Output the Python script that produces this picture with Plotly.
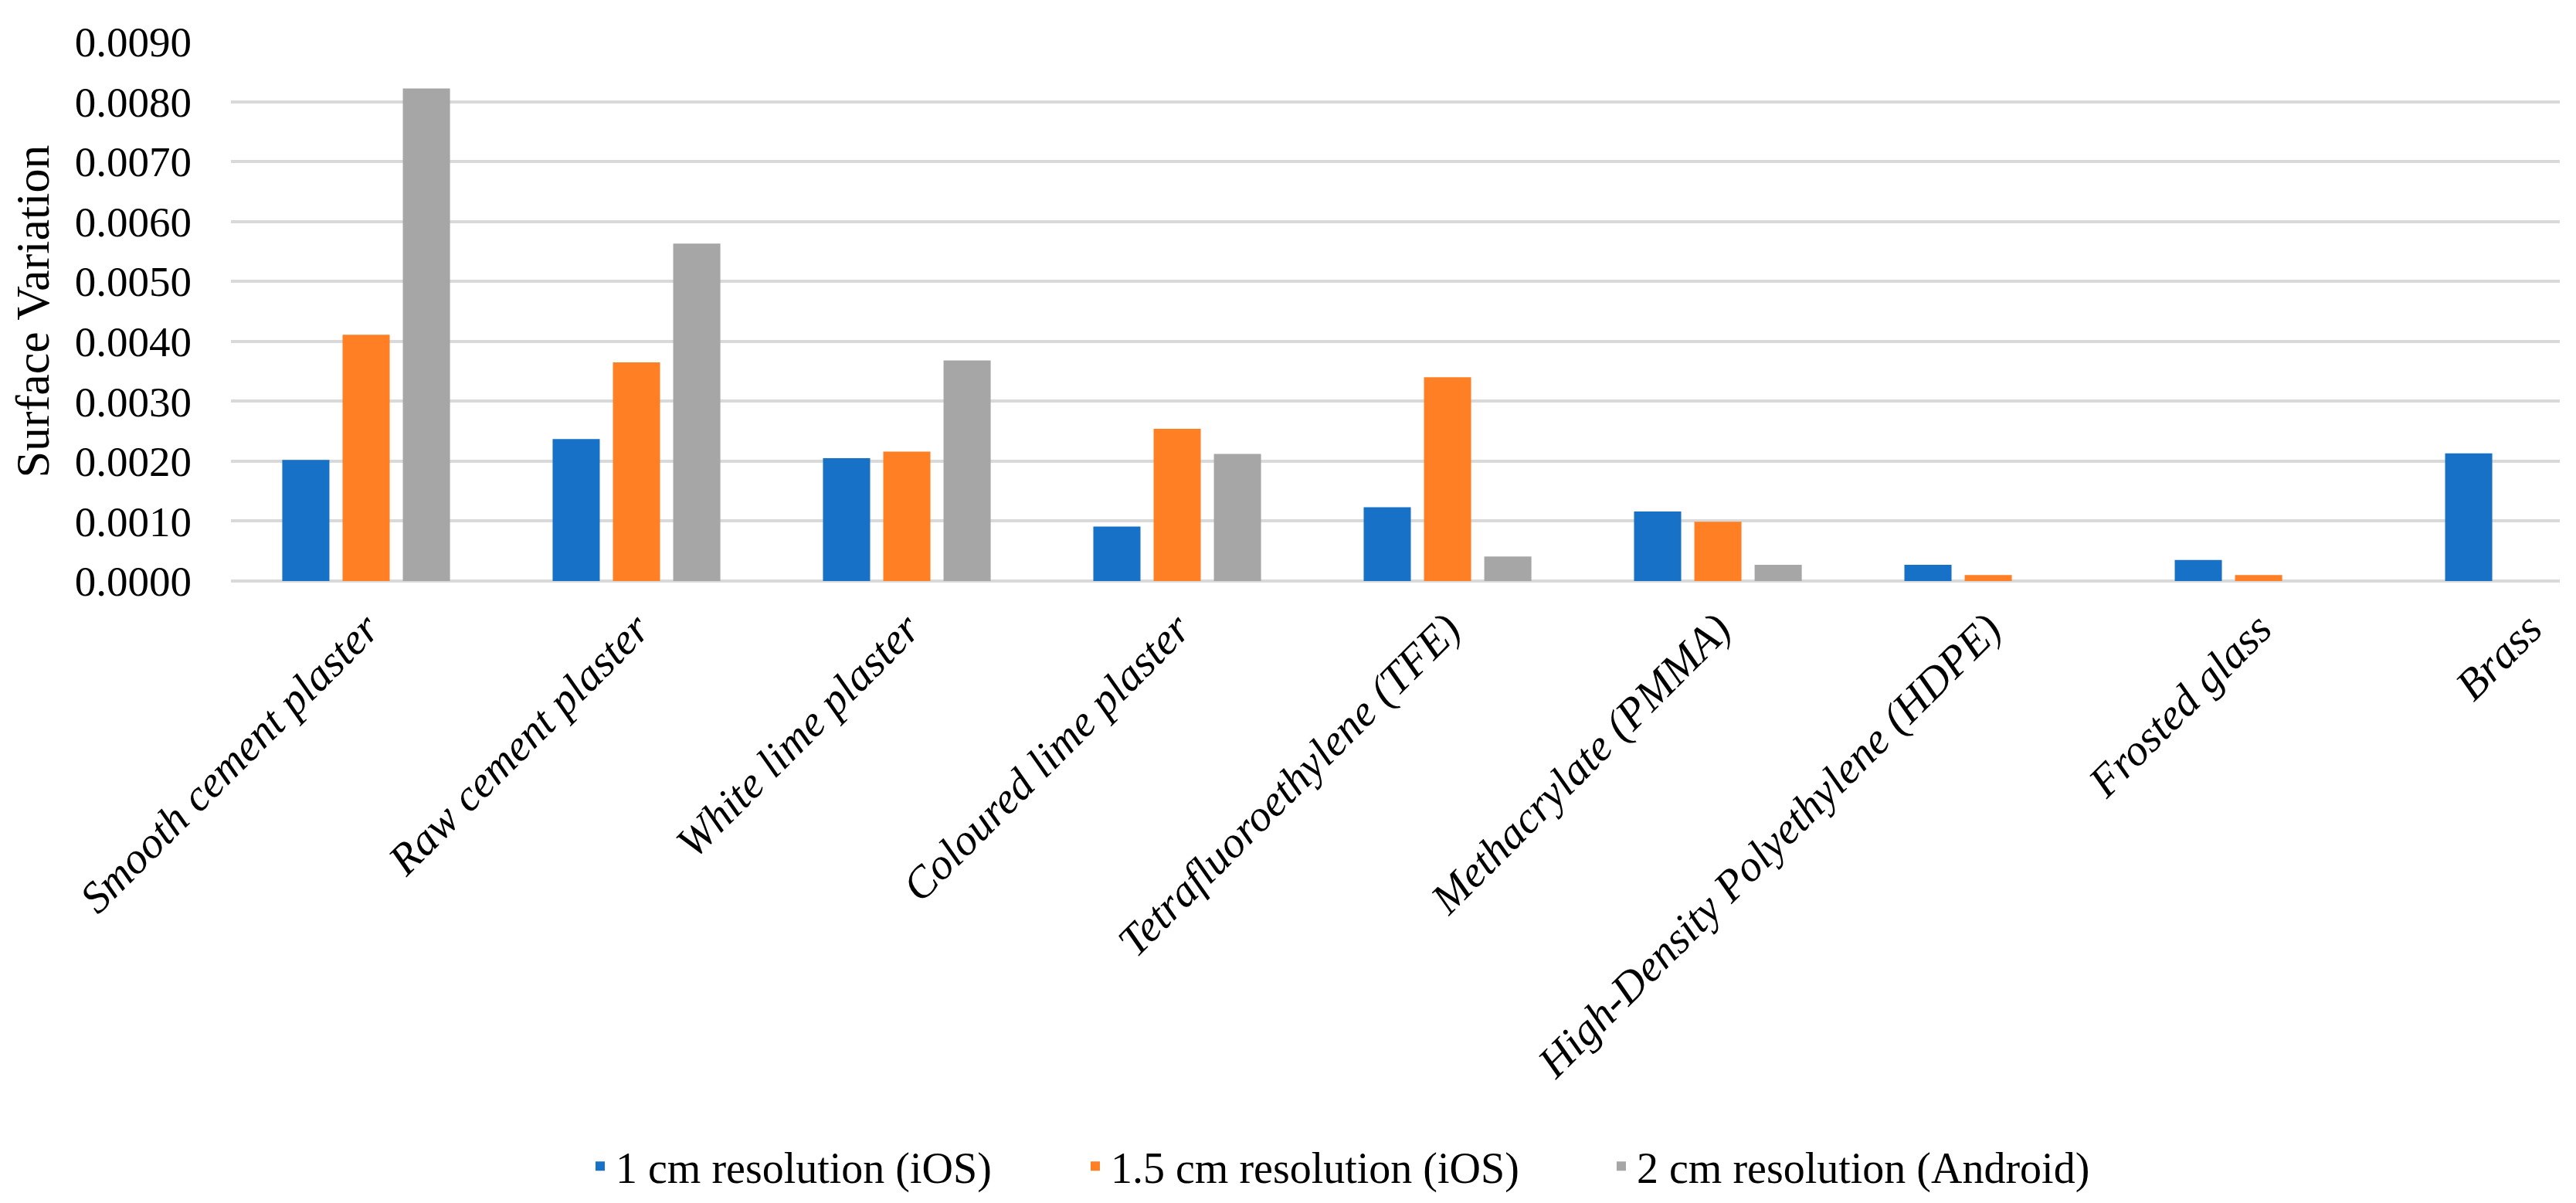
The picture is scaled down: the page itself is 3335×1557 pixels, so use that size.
import plotly.graph_objects as go

categories = [
    "Smooth cement plaster",
    "Raw cement plaster",
    "White lime plaster",
    "Coloured lime plaster",
    "Tetrafluoroethylene (TFE)",
    "Methacrylate (PMMA)",
    "High-Density Polyethylene (HDPE)",
    "Frosted glass",
    "Brass",
]

series_names = [
    "1 cm resolution (iOS)",
    "1.5 cm resolution (iOS)",
    "2 cm resolution (Android)",
]

ios_1cm = [0.00202, 0.00237, 0.00205, 0.00091, 0.00123, 0.00116, 0.00027, 0.00035, 0.00213]
ios_15cm = [0.00411, 0.00365, 0.00216, 0.00254, 0.00340, 0.00099, 0.00010, 0.00010, 0.0]
android_2cm = [0.00822, 0.00563, 0.00368, 0.00212, 0.00041, 0.00027, 0.0, 0.0, 0.0]

y_ticks = [0.0, 0.001, 0.002, 0.003, 0.004, 0.005, 0.006, 0.007, 0.008, 0.009]

colors = ["#1771C7", "#FF7F24", "#A6A6A6"]
legend_widths = [596, 636, 610]
FONT = "Liberation Serif"

fig = go.Figure()
for name, vals, col, lw in zip(series_names, [ios_1cm, ios_15cm, android_2cm], colors, legend_widths):
    fig.add_trace(go.Bar(
        x=list(range(len(categories))), y=vals, name=name,
        marker=dict(color=col, line=dict(width=0)),
        legendwidth=lw,
    ))

fig.update_layout(
    width=3335, height=1557,
    margin=dict(l=291, r=29, t=46, b=803),
    paper_bgcolor="white", plot_bgcolor="white",
    barmode="group", bargap=0.331, bargroupgap=0.218,
    font=dict(family=FONT, size=51, color="#000000"),
    showlegend=True,
    legend=dict(
        orientation="h", x=0.1519, xanchor="left", y=-1.085, yanchor="middle",
        font=dict(family=FONT, size=56, color="#000000"),
        itemwidth=30, tracegroupgap=0,
    ),
)

fig.update_xaxes(
    tickmode="array",
    tickvals=list(range(len(categories))),
    ticktext=["<i>%s</i>" % c for c in categories],
    range=[-0.5, 8.114],
    tickangle=-45,
    tickfont=dict(family=FONT, size=57, color="#000000"),
    showgrid=False, zeroline=False, showline=False, ticks="",
    ticklabelstandoff=16,
)

fig.update_yaxes(
    range=[0, 0.009],
    tickmode="array", tickvals=y_ticks,
    tickformat=".4f",
    tickfont=dict(family=FONT, size=55, color="#000000"),
    showgrid=True, gridcolor="#D9D9D9", gridwidth=4,
    zeroline=True, zerolinecolor="#D9D9D9", zerolinewidth=4,
    showline=False, ticks="",
    ticklabelstandoff=50,
    title=dict(text="Surface Variation", font=dict(family=FONT, size=62, color="#000000"), standoff=30),
)

fig.write_html("out.html")
